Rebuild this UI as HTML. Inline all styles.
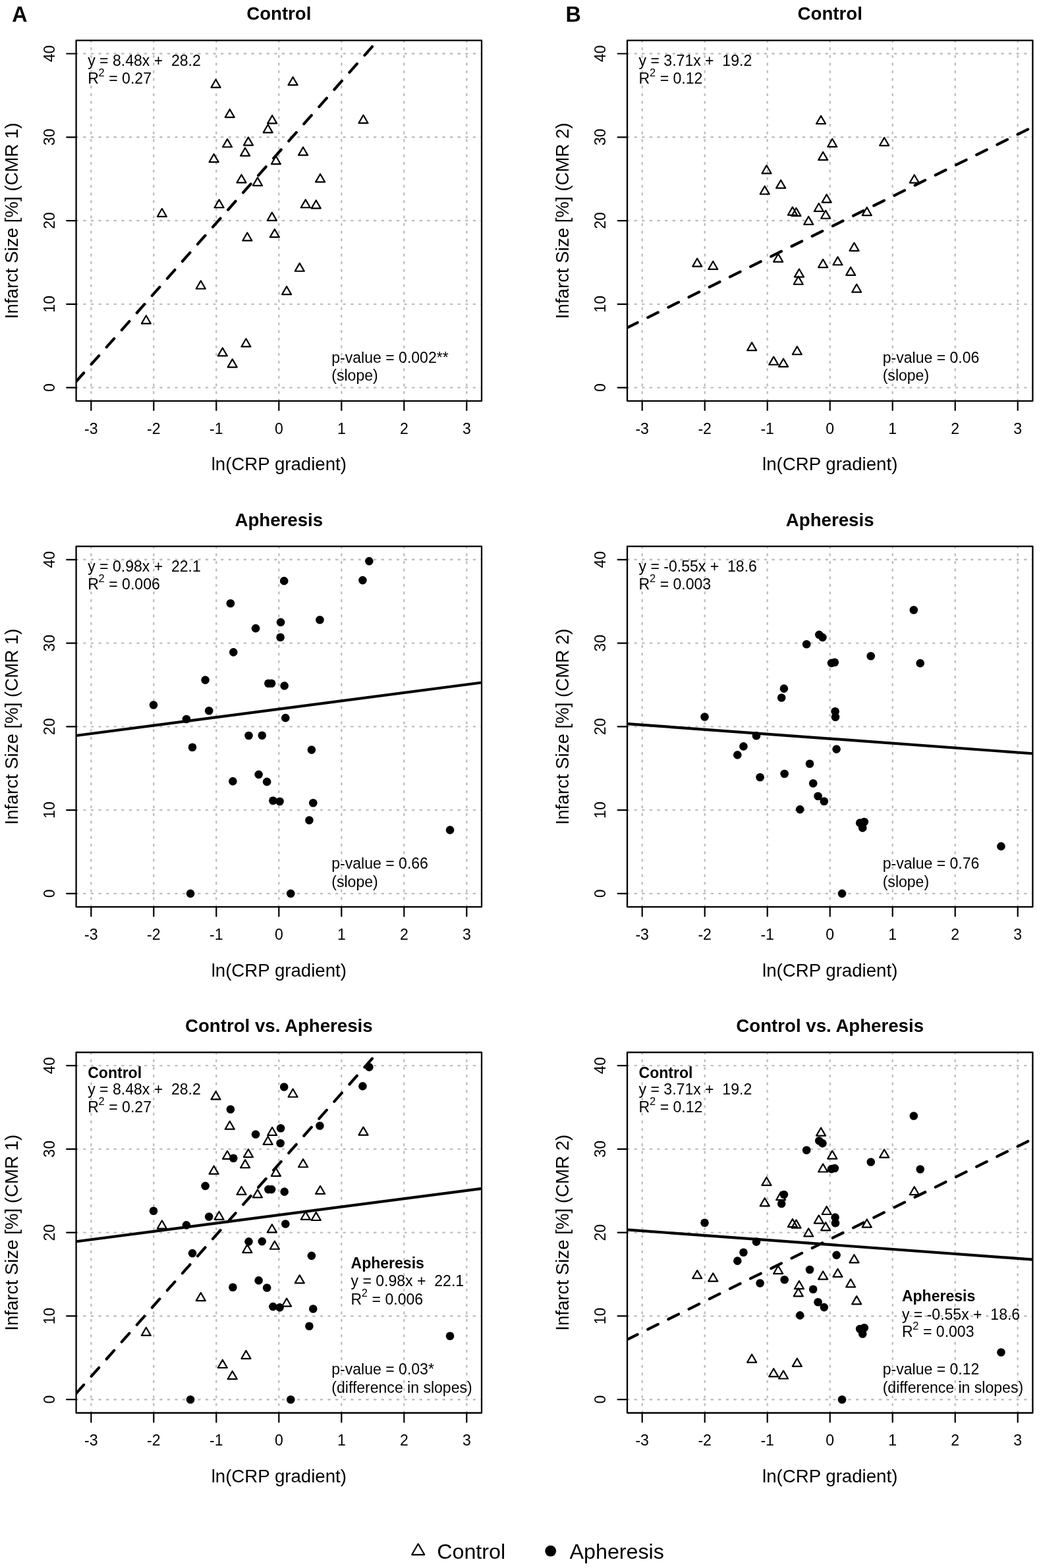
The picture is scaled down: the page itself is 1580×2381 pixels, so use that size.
<!DOCTYPE html>
<html><head><meta charset="utf-8"><title>Infarct size vs ln(CRP gradient)</title>
<style>
html,body{margin:0;padding:0;background:#fff;}
body{width:1580px;height:2381px;overflow:hidden;}
svg{display:block;font-family:"Liberation Sans", Arial, Helvetica, sans-serif;fill:#000;}
text{white-space:pre;}
</style></head><body>
<svg width="1580" height="2381" viewBox="0 0 1580 2381"><defs><clipPath id="pc"><rect x="115.6" y="61.4" width="615.4" height="547.5"/></clipPath></defs><rect width="100%" height="100%" fill="#fff"/><g font-size="32.26" font-weight="bold"><text transform="translate(18.3 33.2) scale(1 1.04)">A</text><text transform="translate(858.6 33.2) scale(1 1.04)">B</text></g><g transform="translate(0 0)"><text transform="translate(423.3 30.2) scale(1 1)" font-size="27.65" font-weight="bold" text-anchor="middle">Control</text><path d="M138.3 608.9V61.4M233.3 608.9V61.4M328.3 608.9V61.4M423.3 608.9V61.4M518.3 608.9V61.4M613.3 608.9V61.4M708.3 608.9V61.4M115.6 588.6H731M115.6 461.83H731M115.6 335.05H731M115.6 208.28H731M115.6 81.5H731" stroke="#bebebe" stroke-width="2.4" stroke-dasharray="2.3 9.3" stroke-linecap="round" fill="none" clip-path="url(#pc)"/><path d="M138.3 608.9V623M233.3 608.9V623M328.3 608.9V623M423.3 608.9V623M518.3 608.9V623M613.3 608.9V623M708.3 608.9V623M115.6 588.6H101.2M115.6 461.83H101.2M115.6 335.05H101.2M115.6 208.28H101.2M115.6 81.5H101.2" stroke="#000" stroke-width="2.2" stroke-linecap="round" fill="none"/><rect x="115.6" y="61.4" width="615.4" height="547.5" fill="none" stroke="#000" stroke-width="2.3" stroke-linejoin="round"/><g font-size="23.04" text-anchor="middle"><text transform="translate(138.3 658.6) scale(1 1.04)">-3</text><text transform="translate(233.3 658.6) scale(1 1.04)">-2</text><text transform="translate(328.3 658.6) scale(1 1.04)">-1</text><text transform="translate(423.3 658.6) scale(1 1.04)">0</text><text transform="translate(518.3 658.6) scale(1 1.04)">1</text><text transform="translate(613.3 658.6) scale(1 1.04)">2</text><text transform="translate(708.3 658.6) scale(1 1.04)">3</text></g><g font-size="23.04" text-anchor="middle"><text transform="translate(82.6 588.6) rotate(-90) scale(1 1.04)">0</text><text transform="translate(82.6 461.83) rotate(-90) scale(1 1.04)">10</text><text transform="translate(82.6 335.05) rotate(-90) scale(1 1.04)">20</text><text transform="translate(82.6 208.28) rotate(-90) scale(1 1.04)">30</text><text transform="translate(82.6 81.5) rotate(-90) scale(1 1.04)">40</text></g><text transform="translate(423.3 714.2) scale(1 1)" font-size="27.65" text-anchor="middle">ln(CRP gradient)</text><text transform="translate(27 335.15) rotate(-90) scale(1 1)" font-size="27.65" text-anchor="middle">Infarct Size [%] (CMR 1)</text><path d="M115.6 579.3L731 -117.11" stroke="#000" stroke-width="4.2" stroke-linecap="round" fill="none" stroke-dasharray="17.4 17.4" clip-path="url(#pc)"/><path d="M327.54 120.69L334.55 132.84L320.53 132.84ZM348.73 165.95L355.74 178.1L341.71 178.1ZM413.13 175.2L420.15 187.35L406.12 187.35ZM406.68 189.15L413.69 201.3L399.66 201.3ZM345.02 211.08L352.03 223.23L338.01 223.23ZM376.94 208.42L383.95 220.57L369.93 220.57ZM372.1 224.52L379.11 236.67L365.08 236.67ZM324.6 233.9L331.61 246.05L317.58 246.05ZM418.84 237.07L425.85 249.22L411.82 249.22ZM366.49 265.21L373.5 277.36L359.48 277.36ZM390.91 269.65L397.92 281.8L383.89 281.8ZM332.58 303.12L339.59 315.27L325.56 315.27ZM245.84 316.81L252.85 328.96L238.83 328.96ZM412.85 322.64L419.86 334.79L405.84 334.79ZM444.58 117.01L451.59 129.16L437.57 129.16ZM551.46 174.82L558.47 186.97L544.44 186.97ZM460.06 223.5L467.08 235.65L453.05 235.65ZM486.1 264.2L493.11 276.35L479.08 276.35ZM463.77 303.12L470.78 315.27L456.76 315.27ZM479.73 304.26L486.74 316.41L472.72 316.41ZM375.32 353.32L382.34 365.47L368.31 365.47ZM416.84 347.99L423.85 360.14L409.83 360.14ZM304.74 426.34L311.75 438.49L297.73 438.49ZM221.81 479.21L228.82 491.36L214.79 491.36ZM373.43 514.32L380.44 526.47L366.41 526.47ZM337.8 528.27L344.81 540.42L330.79 540.42ZM352.72 545.38L359.73 557.53L345.7 557.53ZM454.75 399.59L461.76 411.74L447.73 411.74ZM435.08 434.96L442.09 447.11L428.07 447.11Z" fill="none" stroke="#000" stroke-width="2.2" stroke-linejoin="round"/><g font-size="23.04"><text transform="translate(133.2 99.9) scale(1 1.04)" xml:space="preserve">y = 8.48x +  28.2</text><text transform="translate(133.2 126.8) scale(1 1.04)">R<tspan font-size="16.4" dx="-0.3" dy="-10.6">2</tspan><tspan dx="0.2" dy="10.6"> = 0.27</tspan></text></g><g font-size="23.04"><text transform="translate(503.3 550.5) scale(1 1.02)">p-value = 0.002**</text><text transform="translate(503.3 578.2) scale(1 1)">(slope)</text></g></g><g transform="translate(0 768.3)"><text transform="translate(423.3 30.2) scale(1 1)" font-size="27.65" font-weight="bold" text-anchor="middle">Apheresis</text><path d="M138.3 608.9V61.4M233.3 608.9V61.4M328.3 608.9V61.4M423.3 608.9V61.4M518.3 608.9V61.4M613.3 608.9V61.4M708.3 608.9V61.4M115.6 588.6H731M115.6 461.83H731M115.6 335.05H731M115.6 208.28H731M115.6 81.5H731" stroke="#bebebe" stroke-width="2.4" stroke-dasharray="2.3 9.3" stroke-linecap="round" fill="none" clip-path="url(#pc)"/><path d="M138.3 608.9V623M233.3 608.9V623M328.3 608.9V623M423.3 608.9V623M518.3 608.9V623M613.3 608.9V623M708.3 608.9V623M115.6 588.6H101.2M115.6 461.83H101.2M115.6 335.05H101.2M115.6 208.28H101.2M115.6 81.5H101.2" stroke="#000" stroke-width="2.2" stroke-linecap="round" fill="none"/><rect x="115.6" y="61.4" width="615.4" height="547.5" fill="none" stroke="#000" stroke-width="2.3" stroke-linejoin="round"/><g font-size="23.04" text-anchor="middle"><text transform="translate(138.3 658.6) scale(1 1.04)">-3</text><text transform="translate(233.3 658.6) scale(1 1.04)">-2</text><text transform="translate(328.3 658.6) scale(1 1.04)">-1</text><text transform="translate(423.3 658.6) scale(1 1.04)">0</text><text transform="translate(518.3 658.6) scale(1 1.04)">1</text><text transform="translate(613.3 658.6) scale(1 1.04)">2</text><text transform="translate(708.3 658.6) scale(1 1.04)">3</text></g><g font-size="23.04" text-anchor="middle"><text transform="translate(82.6 588.6) rotate(-90) scale(1 1.04)">0</text><text transform="translate(82.6 461.83) rotate(-90) scale(1 1.04)">10</text><text transform="translate(82.6 335.05) rotate(-90) scale(1 1.04)">20</text><text transform="translate(82.6 208.28) rotate(-90) scale(1 1.04)">30</text><text transform="translate(82.6 81.5) rotate(-90) scale(1 1.04)">40</text></g><text transform="translate(423.3 714.2) scale(1 1)" font-size="27.65" text-anchor="middle">ln(CRP gradient)</text><text transform="translate(27 335.15) rotate(-90) scale(1 1)" font-size="27.65" text-anchor="middle">Infarct Size [%] (CMR 1)</text><path d="M115.6 348.67L731 268.19" stroke="#000" stroke-width="4.2" stroke-linecap="round" fill="none" clip-path="url(#pc)"/><g><circle cx="431.19" cy="113.83" r="6.3"/><circle cx="349.87" cy="147.93" r="6.3"/><circle cx="426.06" cy="176.58" r="6.3"/><circle cx="388.06" cy="185.84" r="6.3"/><circle cx="425.58" cy="199.4" r="6.3"/><circle cx="354.24" cy="222.09" r="6.3"/><circle cx="311.58" cy="264.31" r="6.3"/><circle cx="407.34" cy="269.51" r="6.3"/><circle cx="412.09" cy="269.51" r="6.3"/><circle cx="431.66" cy="273.06" r="6.3"/><circle cx="233.01" cy="302.22" r="6.3"/><circle cx="317.19" cy="310.96" r="6.3"/><circle cx="282.89" cy="323.77" r="6.3"/><circle cx="433.28" cy="321.87" r="6.3"/><circle cx="560.29" cy="83.78" r="6.3"/><circle cx="550.41" cy="112.81" r="6.3"/><circle cx="485.43" cy="172.9" r="6.3"/><circle cx="377.51" cy="348.74" r="6.3"/><circle cx="397.75" cy="348.49" r="6.3"/><circle cx="292.01" cy="366.49" r="6.3"/><circle cx="392.62" cy="407.82" r="6.3"/><circle cx="353.38" cy="418.09" r="6.3"/><circle cx="405.16" cy="418.85" r="6.3"/><circle cx="414.37" cy="447.5" r="6.3"/><circle cx="424.54" cy="448.77" r="6.3"/><circle cx="472.89" cy="370.29" r="6.3"/><circle cx="475.26" cy="450.92" r="6.3"/><circle cx="469.38" cy="477.16" r="6.3"/><circle cx="289.06" cy="588.6" r="6.3"/><circle cx="441.25" cy="588.6" r="6.3"/><circle cx="683.03" cy="492.12" r="6.3"/></g><g font-size="23.04"><text transform="translate(133.2 99.9) scale(1 1.04)" xml:space="preserve">y = 0.98x +  22.1</text><text transform="translate(133.2 126.8) scale(1 1.04)">R<tspan font-size="16.4" dx="-0.3" dy="-10.6">2</tspan><tspan dx="0.2" dy="10.6"> = 0.006</tspan></text></g><g font-size="23.04"><text transform="translate(503.3 550.5) scale(1 1.02)">p-value = 0.66</text><text transform="translate(503.3 578.2) scale(1 1)">(slope)</text></g></g><g transform="translate(0 1536.6)"><text transform="translate(423.3 30.2) scale(1 1)" font-size="27.65" font-weight="bold" text-anchor="middle">Control vs. Apheresis</text><path d="M138.3 608.9V61.4M233.3 608.9V61.4M328.3 608.9V61.4M423.3 608.9V61.4M518.3 608.9V61.4M613.3 608.9V61.4M708.3 608.9V61.4M115.6 588.6H731M115.6 461.83H731M115.6 335.05H731M115.6 208.28H731M115.6 81.5H731" stroke="#bebebe" stroke-width="2.4" stroke-dasharray="2.3 9.3" stroke-linecap="round" fill="none" clip-path="url(#pc)"/><path d="M138.3 608.9V623M233.3 608.9V623M328.3 608.9V623M423.3 608.9V623M518.3 608.9V623M613.3 608.9V623M708.3 608.9V623M115.6 588.6H101.2M115.6 461.83H101.2M115.6 335.05H101.2M115.6 208.28H101.2M115.6 81.5H101.2" stroke="#000" stroke-width="2.2" stroke-linecap="round" fill="none"/><rect x="115.6" y="61.4" width="615.4" height="547.5" fill="none" stroke="#000" stroke-width="2.3" stroke-linejoin="round"/><g font-size="23.04" text-anchor="middle"><text transform="translate(138.3 658.6) scale(1 1.04)">-3</text><text transform="translate(233.3 658.6) scale(1 1.04)">-2</text><text transform="translate(328.3 658.6) scale(1 1.04)">-1</text><text transform="translate(423.3 658.6) scale(1 1.04)">0</text><text transform="translate(518.3 658.6) scale(1 1.04)">1</text><text transform="translate(613.3 658.6) scale(1 1.04)">2</text><text transform="translate(708.3 658.6) scale(1 1.04)">3</text></g><g font-size="23.04" text-anchor="middle"><text transform="translate(82.6 588.6) rotate(-90) scale(1 1.04)">0</text><text transform="translate(82.6 461.83) rotate(-90) scale(1 1.04)">10</text><text transform="translate(82.6 335.05) rotate(-90) scale(1 1.04)">20</text><text transform="translate(82.6 208.28) rotate(-90) scale(1 1.04)">30</text><text transform="translate(82.6 81.5) rotate(-90) scale(1 1.04)">40</text></g><text transform="translate(423.3 714.2) scale(1 1)" font-size="27.65" text-anchor="middle">ln(CRP gradient)</text><text transform="translate(27 335.15) rotate(-90) scale(1 1)" font-size="27.65" text-anchor="middle">Infarct Size [%] (CMR 1)</text><path d="M115.6 579.3L731 -117.11" stroke="#000" stroke-width="4.2" stroke-linecap="round" fill="none" stroke-dasharray="17.4 17.4" clip-path="url(#pc)"/><path d="M115.6 348.67L731 268.19" stroke="#000" stroke-width="4.2" stroke-linecap="round" fill="none" clip-path="url(#pc)"/><path d="M327.54 120.69L334.55 132.84L320.53 132.84ZM348.73 165.95L355.74 178.1L341.71 178.1ZM413.13 175.2L420.15 187.35L406.12 187.35ZM406.68 189.15L413.69 201.3L399.66 201.3ZM345.02 211.08L352.03 223.23L338.01 223.23ZM376.94 208.42L383.95 220.57L369.93 220.57ZM372.1 224.52L379.11 236.67L365.08 236.67ZM324.6 233.9L331.61 246.05L317.58 246.05ZM418.84 237.07L425.85 249.22L411.82 249.22ZM366.49 265.21L373.5 277.36L359.48 277.36ZM390.91 269.65L397.92 281.8L383.89 281.8ZM332.58 303.12L339.59 315.27L325.56 315.27ZM245.84 316.81L252.85 328.96L238.83 328.96ZM412.85 322.64L419.86 334.79L405.84 334.79ZM444.58 117.01L451.59 129.16L437.57 129.16ZM551.46 174.82L558.47 186.97L544.44 186.97ZM460.06 223.5L467.08 235.65L453.05 235.65ZM486.1 264.2L493.11 276.35L479.08 276.35ZM463.77 303.12L470.78 315.27L456.76 315.27ZM479.73 304.26L486.74 316.41L472.72 316.41ZM375.32 353.32L382.34 365.47L368.31 365.47ZM416.84 347.99L423.85 360.14L409.83 360.14ZM304.74 426.34L311.75 438.49L297.73 438.49ZM221.81 479.21L228.82 491.36L214.79 491.36ZM373.43 514.32L380.44 526.47L366.41 526.47ZM337.8 528.27L344.81 540.42L330.79 540.42ZM352.72 545.38L359.73 557.53L345.7 557.53ZM454.75 399.59L461.76 411.74L447.73 411.74ZM435.08 434.96L442.09 447.11L428.07 447.11Z" fill="none" stroke="#000" stroke-width="2.2" stroke-linejoin="round"/><g><circle cx="431.19" cy="113.83" r="6.3"/><circle cx="349.87" cy="147.93" r="6.3"/><circle cx="426.06" cy="176.58" r="6.3"/><circle cx="388.06" cy="185.84" r="6.3"/><circle cx="425.58" cy="199.4" r="6.3"/><circle cx="354.24" cy="222.09" r="6.3"/><circle cx="311.58" cy="264.31" r="6.3"/><circle cx="407.34" cy="269.51" r="6.3"/><circle cx="412.09" cy="269.51" r="6.3"/><circle cx="431.66" cy="273.06" r="6.3"/><circle cx="233.01" cy="302.22" r="6.3"/><circle cx="317.19" cy="310.96" r="6.3"/><circle cx="282.89" cy="323.77" r="6.3"/><circle cx="433.28" cy="321.87" r="6.3"/><circle cx="560.29" cy="83.78" r="6.3"/><circle cx="550.41" cy="112.81" r="6.3"/><circle cx="485.43" cy="172.9" r="6.3"/><circle cx="377.51" cy="348.74" r="6.3"/><circle cx="397.75" cy="348.49" r="6.3"/><circle cx="292.01" cy="366.49" r="6.3"/><circle cx="392.62" cy="407.82" r="6.3"/><circle cx="353.38" cy="418.09" r="6.3"/><circle cx="405.16" cy="418.85" r="6.3"/><circle cx="414.37" cy="447.5" r="6.3"/><circle cx="424.54" cy="448.77" r="6.3"/><circle cx="472.89" cy="370.29" r="6.3"/><circle cx="475.26" cy="450.92" r="6.3"/><circle cx="469.38" cy="477.16" r="6.3"/><circle cx="289.06" cy="588.6" r="6.3"/><circle cx="441.25" cy="588.6" r="6.3"/><circle cx="683.03" cy="492.12" r="6.3"/></g><g font-size="23.04"><text transform="translate(133.2 100.4) scale(1 1)" font-weight="bold">Control</text><text transform="translate(133.2 125.5) scale(1 1.04)" xml:space="preserve">y = 8.48x +  28.2</text><text transform="translate(133.2 152) scale(1 1.04)">R<tspan font-size="16.4" dx="-0.3" dy="-10.6">2</tspan><tspan dx="0.2" dy="10.6"> = 0.27</tspan></text></g><g font-size="23.04"><text transform="translate(532.5 389.1) scale(1 1)" font-weight="bold">Apheresis</text><text transform="translate(532.5 416.3) scale(1 1.04)" xml:space="preserve">y = 0.98x +  22.1</text><text transform="translate(532.5 443.9) scale(1 1.04)">R<tspan font-size="16.4" dx="-0.3" dy="-10.6">2</tspan><tspan dx="0.2" dy="10.6"> = 0.006</tspan></text></g><g font-size="23.04"><text transform="translate(503.3 550.5) scale(1 1.02)">p-value = 0.03*</text><text transform="translate(503.3 578.2) scale(1 1)">(difference in slopes)</text></g></g><g transform="translate(836.4 0)"><text transform="translate(423.3 30.2) scale(1 1)" font-size="27.65" font-weight="bold" text-anchor="middle">Control</text><path d="M138.3 608.9V61.4M233.3 608.9V61.4M328.3 608.9V61.4M423.3 608.9V61.4M518.3 608.9V61.4M613.3 608.9V61.4M708.3 608.9V61.4M115.6 588.6H731M115.6 461.83H731M115.6 335.05H731M115.6 208.28H731M115.6 81.5H731" stroke="#bebebe" stroke-width="2.4" stroke-dasharray="2.3 9.3" stroke-linecap="round" fill="none" clip-path="url(#pc)"/><path d="M138.3 608.9V623M233.3 608.9V623M328.3 608.9V623M423.3 608.9V623M518.3 608.9V623M613.3 608.9V623M708.3 608.9V623M115.6 588.6H101.2M115.6 461.83H101.2M115.6 335.05H101.2M115.6 208.28H101.2M115.6 81.5H101.2" stroke="#000" stroke-width="2.2" stroke-linecap="round" fill="none"/><rect x="115.6" y="61.4" width="615.4" height="547.5" fill="none" stroke="#000" stroke-width="2.3" stroke-linejoin="round"/><g font-size="23.04" text-anchor="middle"><text transform="translate(138.3 658.6) scale(1 1.04)">-3</text><text transform="translate(233.3 658.6) scale(1 1.04)">-2</text><text transform="translate(328.3 658.6) scale(1 1.04)">-1</text><text transform="translate(423.3 658.6) scale(1 1.04)">0</text><text transform="translate(518.3 658.6) scale(1 1.04)">1</text><text transform="translate(613.3 658.6) scale(1 1.04)">2</text><text transform="translate(708.3 658.6) scale(1 1.04)">3</text></g><g font-size="23.04" text-anchor="middle"><text transform="translate(82.6 588.6) rotate(-90) scale(1 1.04)">0</text><text transform="translate(82.6 461.83) rotate(-90) scale(1 1.04)">10</text><text transform="translate(82.6 335.05) rotate(-90) scale(1 1.04)">20</text><text transform="translate(82.6 208.28) rotate(-90) scale(1 1.04)">30</text><text transform="translate(82.6 81.5) rotate(-90) scale(1 1.04)">40</text></g><text transform="translate(423.3 714.2) scale(1 1)" font-size="27.65" text-anchor="middle">ln(CRP gradient)</text><text transform="translate(27 335.15) rotate(-90) scale(1 1)" font-size="27.65" text-anchor="middle">Infarct Size [%] (CMR 2)</text><path d="M115.6 497.53L731 192.85" stroke="#000" stroke-width="4.2" stroke-linecap="round" fill="none" stroke-dasharray="17.4 17.4" clip-path="url(#pc)"/><path d="M409.62 175.83L416.63 187.98L402.61 187.98ZM412.75 230.73L419.77 242.88L405.74 242.88ZM327.07 251.14L334.08 263.29L320.05 263.29ZM348.73 273.45L355.74 285.6L341.71 285.6ZM324.31 282.58L331.32 294.73L317.3 294.73ZM418.26 295.26L425.28 307.41L411.25 307.41ZM406.39 308.82L413.4 320.97L399.38 320.97ZM416.75 319.6L423.76 331.75L409.73 331.75ZM366.49 314.4L373.5 326.55L359.48 326.55ZM372.1 315.79L379.11 327.94L365.08 327.94ZM390.81 328.72L397.82 340.87L383.8 340.87ZM344.74 385.39L351.75 397.54L337.72 397.54ZM426.81 210.82L433.83 222.97L419.8 222.97ZM505.76 208.92L512.77 221.07L498.75 221.07ZM551.36 265.46L558.37 277.61L544.35 277.61ZM479.35 314.91L486.36 327.06L472.34 327.06ZM460.06 368.66L467.08 380.81L453.05 380.81ZM221.81 392.49L228.82 404.64L214.79 404.64ZM245.84 396.8L252.85 408.95L238.83 408.95ZM412.75 393.89L419.77 406.04L405.74 406.04ZM376.56 408.47L383.57 420.62L369.55 420.62ZM375.32 419.62L382.34 431.77L368.31 431.77ZM304.74 520.03L311.75 532.18L297.73 532.18ZM337.8 541.58L344.81 553.73L330.79 553.73ZM352.62 544.75L359.63 556.9L345.61 556.9ZM373.43 526.11L380.44 538.26L366.41 538.26ZM435.08 390.08L442.09 402.23L428.07 402.23ZM454.75 405.68L461.76 417.83L447.73 417.83ZM463.77 431.54L470.78 443.69L456.76 443.69Z" fill="none" stroke="#000" stroke-width="2.2" stroke-linejoin="round"/><g font-size="23.04"><text transform="translate(133.2 99.9) scale(1 1.04)" xml:space="preserve">y = 3.71x +  19.2</text><text transform="translate(133.2 126.8) scale(1 1.04)">R<tspan font-size="16.4" dx="-0.3" dy="-10.6">2</tspan><tspan dx="0.2" dy="10.6"> = 0.12</tspan></text></g><g font-size="23.04"><text transform="translate(503.3 550.5) scale(1 1.02)">p-value = 0.06</text><text transform="translate(503.3 578.2) scale(1 1)">(slope)</text></g></g><g transform="translate(836.4 768.3)"><text transform="translate(423.3 30.2) scale(1 1)" font-size="27.65" font-weight="bold" text-anchor="middle">Apheresis</text><path d="M138.3 608.9V61.4M233.3 608.9V61.4M328.3 608.9V61.4M423.3 608.9V61.4M518.3 608.9V61.4M613.3 608.9V61.4M708.3 608.9V61.4M115.6 588.6H731M115.6 461.83H731M115.6 335.05H731M115.6 208.28H731M115.6 81.5H731" stroke="#bebebe" stroke-width="2.4" stroke-dasharray="2.3 9.3" stroke-linecap="round" fill="none" clip-path="url(#pc)"/><path d="M138.3 608.9V623M233.3 608.9V623M328.3 608.9V623M423.3 608.9V623M518.3 608.9V623M613.3 608.9V623M708.3 608.9V623M115.6 588.6H101.2M115.6 461.83H101.2M115.6 335.05H101.2M115.6 208.28H101.2M115.6 81.5H101.2" stroke="#000" stroke-width="2.2" stroke-linecap="round" fill="none"/><rect x="115.6" y="61.4" width="615.4" height="547.5" fill="none" stroke="#000" stroke-width="2.3" stroke-linejoin="round"/><g font-size="23.04" text-anchor="middle"><text transform="translate(138.3 658.6) scale(1 1.04)">-3</text><text transform="translate(233.3 658.6) scale(1 1.04)">-2</text><text transform="translate(328.3 658.6) scale(1 1.04)">-1</text><text transform="translate(423.3 658.6) scale(1 1.04)">0</text><text transform="translate(518.3 658.6) scale(1 1.04)">1</text><text transform="translate(613.3 658.6) scale(1 1.04)">2</text><text transform="translate(708.3 658.6) scale(1 1.04)">3</text></g><g font-size="23.04" text-anchor="middle"><text transform="translate(82.6 588.6) rotate(-90) scale(1 1.04)">0</text><text transform="translate(82.6 461.83) rotate(-90) scale(1 1.04)">10</text><text transform="translate(82.6 335.05) rotate(-90) scale(1 1.04)">20</text><text transform="translate(82.6 208.28) rotate(-90) scale(1 1.04)">30</text><text transform="translate(82.6 81.5) rotate(-90) scale(1 1.04)">40</text></g><text transform="translate(423.3 714.2) scale(1 1)" font-size="27.65" text-anchor="middle">ln(CRP gradient)</text><text transform="translate(27 335.15) rotate(-90) scale(1 1)" font-size="27.65" text-anchor="middle">Infarct Size [%] (CMR 2)</text><path d="M115.6 330.81L731 375.98" stroke="#000" stroke-width="4.2" stroke-linecap="round" fill="none" clip-path="url(#pc)"/><g><circle cx="406.87" cy="195.6" r="6.3"/><circle cx="412" cy="199.53" r="6.3"/><circle cx="387.77" cy="209.92" r="6.3"/><circle cx="425.58" cy="238.57" r="6.3"/><circle cx="430.43" cy="237.43" r="6.3"/><circle cx="353.48" cy="277.37" r="6.3"/><circle cx="349.77" cy="291.19" r="6.3"/><circle cx="431.19" cy="311.98" r="6.3"/><circle cx="431.56" cy="320.6" r="6.3"/><circle cx="233.11" cy="320.22" r="6.3"/><circle cx="311.58" cy="349" r="6.3"/><circle cx="292.01" cy="365.1" r="6.3"/><circle cx="282.89" cy="378.03" r="6.3"/><circle cx="433.18" cy="369.28" r="6.3"/><circle cx="550.41" cy="157.95" r="6.3"/><circle cx="485.34" cy="227.93" r="6.3"/><circle cx="560.29" cy="238.83" r="6.3"/><circle cx="392.62" cy="391.46" r="6.3"/><circle cx="354.24" cy="406.68" r="6.3"/><circle cx="317.19" cy="411.88" r="6.3"/><circle cx="397.75" cy="421.13" r="6.3"/><circle cx="405.16" cy="440.65" r="6.3"/><circle cx="414.37" cy="448.51" r="6.3"/><circle cx="377.8" cy="460.81" r="6.3"/><circle cx="468.71" cy="481.35" r="6.3"/><circle cx="475.36" cy="479.7" r="6.3"/><circle cx="472.8" cy="488.83" r="6.3"/><circle cx="683.03" cy="516.85" r="6.3"/><circle cx="441.63" cy="588.6" r="6.3"/></g><g font-size="23.04"><text transform="translate(133.2 99.9) scale(1 1.04)" xml:space="preserve">y = -0.55x +  18.6</text><text transform="translate(133.2 126.8) scale(1 1.04)">R<tspan font-size="16.4" dx="-0.3" dy="-10.6">2</tspan><tspan dx="0.2" dy="10.6"> = 0.003</tspan></text></g><g font-size="23.04"><text transform="translate(503.3 550.5) scale(1 1.02)">p-value = 0.76</text><text transform="translate(503.3 578.2) scale(1 1)">(slope)</text></g></g><g transform="translate(836.4 1536.6)"><text transform="translate(423.3 30.2) scale(1 1)" font-size="27.65" font-weight="bold" text-anchor="middle">Control vs. Apheresis</text><path d="M138.3 608.9V61.4M233.3 608.9V61.4M328.3 608.9V61.4M423.3 608.9V61.4M518.3 608.9V61.4M613.3 608.9V61.4M708.3 608.9V61.4M115.6 588.6H731M115.6 461.83H731M115.6 335.05H731M115.6 208.28H731M115.6 81.5H731" stroke="#bebebe" stroke-width="2.4" stroke-dasharray="2.3 9.3" stroke-linecap="round" fill="none" clip-path="url(#pc)"/><path d="M138.3 608.9V623M233.3 608.9V623M328.3 608.9V623M423.3 608.9V623M518.3 608.9V623M613.3 608.9V623M708.3 608.9V623M115.6 588.6H101.2M115.6 461.83H101.2M115.6 335.05H101.2M115.6 208.28H101.2M115.6 81.5H101.2" stroke="#000" stroke-width="2.2" stroke-linecap="round" fill="none"/><rect x="115.6" y="61.4" width="615.4" height="547.5" fill="none" stroke="#000" stroke-width="2.3" stroke-linejoin="round"/><g font-size="23.04" text-anchor="middle"><text transform="translate(138.3 658.6) scale(1 1.04)">-3</text><text transform="translate(233.3 658.6) scale(1 1.04)">-2</text><text transform="translate(328.3 658.6) scale(1 1.04)">-1</text><text transform="translate(423.3 658.6) scale(1 1.04)">0</text><text transform="translate(518.3 658.6) scale(1 1.04)">1</text><text transform="translate(613.3 658.6) scale(1 1.04)">2</text><text transform="translate(708.3 658.6) scale(1 1.04)">3</text></g><g font-size="23.04" text-anchor="middle"><text transform="translate(82.6 588.6) rotate(-90) scale(1 1.04)">0</text><text transform="translate(82.6 461.83) rotate(-90) scale(1 1.04)">10</text><text transform="translate(82.6 335.05) rotate(-90) scale(1 1.04)">20</text><text transform="translate(82.6 208.28) rotate(-90) scale(1 1.04)">30</text><text transform="translate(82.6 81.5) rotate(-90) scale(1 1.04)">40</text></g><text transform="translate(423.3 714.2) scale(1 1)" font-size="27.65" text-anchor="middle">ln(CRP gradient)</text><text transform="translate(27 335.15) rotate(-90) scale(1 1)" font-size="27.65" text-anchor="middle">Infarct Size [%] (CMR 2)</text><path d="M115.6 497.53L731 192.85" stroke="#000" stroke-width="4.2" stroke-linecap="round" fill="none" stroke-dasharray="17.4 17.4" clip-path="url(#pc)"/><path d="M115.6 330.81L731 375.98" stroke="#000" stroke-width="4.2" stroke-linecap="round" fill="none" clip-path="url(#pc)"/><path d="M409.62 175.83L416.63 187.98L402.61 187.98ZM412.75 230.73L419.77 242.88L405.74 242.88ZM327.07 251.14L334.08 263.29L320.05 263.29ZM348.73 273.45L355.74 285.6L341.71 285.6ZM324.31 282.58L331.32 294.73L317.3 294.73ZM418.26 295.26L425.28 307.41L411.25 307.41ZM406.39 308.82L413.4 320.97L399.38 320.97ZM416.75 319.6L423.76 331.75L409.73 331.75ZM366.49 314.4L373.5 326.55L359.48 326.55ZM372.1 315.79L379.11 327.94L365.08 327.94ZM390.81 328.72L397.82 340.87L383.8 340.87ZM344.74 385.39L351.75 397.54L337.72 397.54ZM426.81 210.82L433.83 222.97L419.8 222.97ZM505.76 208.92L512.77 221.07L498.75 221.07ZM551.36 265.46L558.37 277.61L544.35 277.61ZM479.35 314.91L486.36 327.06L472.34 327.06ZM460.06 368.66L467.08 380.81L453.05 380.81ZM221.81 392.49L228.82 404.64L214.79 404.64ZM245.84 396.8L252.85 408.95L238.83 408.95ZM412.75 393.89L419.77 406.04L405.74 406.04ZM376.56 408.47L383.57 420.62L369.55 420.62ZM375.32 419.62L382.34 431.77L368.31 431.77ZM304.74 520.03L311.75 532.18L297.73 532.18ZM337.8 541.58L344.81 553.73L330.79 553.73ZM352.62 544.75L359.63 556.9L345.61 556.9ZM373.43 526.11L380.44 538.26L366.41 538.26ZM435.08 390.08L442.09 402.23L428.07 402.23ZM454.75 405.68L461.76 417.83L447.73 417.83ZM463.77 431.54L470.78 443.69L456.76 443.69Z" fill="none" stroke="#000" stroke-width="2.2" stroke-linejoin="round"/><g><circle cx="406.87" cy="195.6" r="6.3"/><circle cx="412" cy="199.53" r="6.3"/><circle cx="387.77" cy="209.92" r="6.3"/><circle cx="425.58" cy="238.57" r="6.3"/><circle cx="430.43" cy="237.43" r="6.3"/><circle cx="353.48" cy="277.37" r="6.3"/><circle cx="349.77" cy="291.19" r="6.3"/><circle cx="431.19" cy="311.98" r="6.3"/><circle cx="431.56" cy="320.6" r="6.3"/><circle cx="233.11" cy="320.22" r="6.3"/><circle cx="311.58" cy="349" r="6.3"/><circle cx="292.01" cy="365.1" r="6.3"/><circle cx="282.89" cy="378.03" r="6.3"/><circle cx="433.18" cy="369.28" r="6.3"/><circle cx="550.41" cy="157.95" r="6.3"/><circle cx="485.34" cy="227.93" r="6.3"/><circle cx="560.29" cy="238.83" r="6.3"/><circle cx="392.62" cy="391.46" r="6.3"/><circle cx="354.24" cy="406.68" r="6.3"/><circle cx="317.19" cy="411.88" r="6.3"/><circle cx="397.75" cy="421.13" r="6.3"/><circle cx="405.16" cy="440.65" r="6.3"/><circle cx="414.37" cy="448.51" r="6.3"/><circle cx="377.8" cy="460.81" r="6.3"/><circle cx="468.71" cy="481.35" r="6.3"/><circle cx="475.36" cy="479.7" r="6.3"/><circle cx="472.8" cy="488.83" r="6.3"/><circle cx="683.03" cy="516.85" r="6.3"/><circle cx="441.63" cy="588.6" r="6.3"/></g><g font-size="23.04"><text transform="translate(133.2 100.4) scale(1 1)" font-weight="bold">Control</text><text transform="translate(133.2 125.5) scale(1 1.04)" xml:space="preserve">y = 3.71x +  19.2</text><text transform="translate(133.2 152) scale(1 1.04)">R<tspan font-size="16.4" dx="-0.3" dy="-10.6">2</tspan><tspan dx="0.2" dy="10.6"> = 0.12</tspan></text></g><g font-size="23.04"><text transform="translate(532.5 439.4) scale(1 1)" font-weight="bold">Apheresis</text><text transform="translate(532.5 467.3) scale(1 1.04)" xml:space="preserve">y = -0.55x +  18.6</text><text transform="translate(532.5 493.8) scale(1 1.04)">R<tspan font-size="16.4" dx="-0.3" dy="-10.6">2</tspan><tspan dx="0.2" dy="10.6"> = 0.003</tspan></text></g><g font-size="23.04"><text transform="translate(503.3 550.5) scale(1 1.02)">p-value = 0.12</text><text transform="translate(503.3 578.2) scale(1 1)">(difference in slopes)</text></g></g><path d="M634.7 2344.3L644.23 2360.8L625.17 2360.8Z" fill="none" stroke="#000" stroke-width="2.2" stroke-linejoin="round"/><circle cx="835.7" cy="2355.2" r="8.4"/><g font-size="32.26"><text transform="translate(663.2 2366.7) scale(1 1)">Control</text><text transform="translate(864.5 2366.7) scale(1 1)">Apheresis</text></g></svg>
</body></html>
